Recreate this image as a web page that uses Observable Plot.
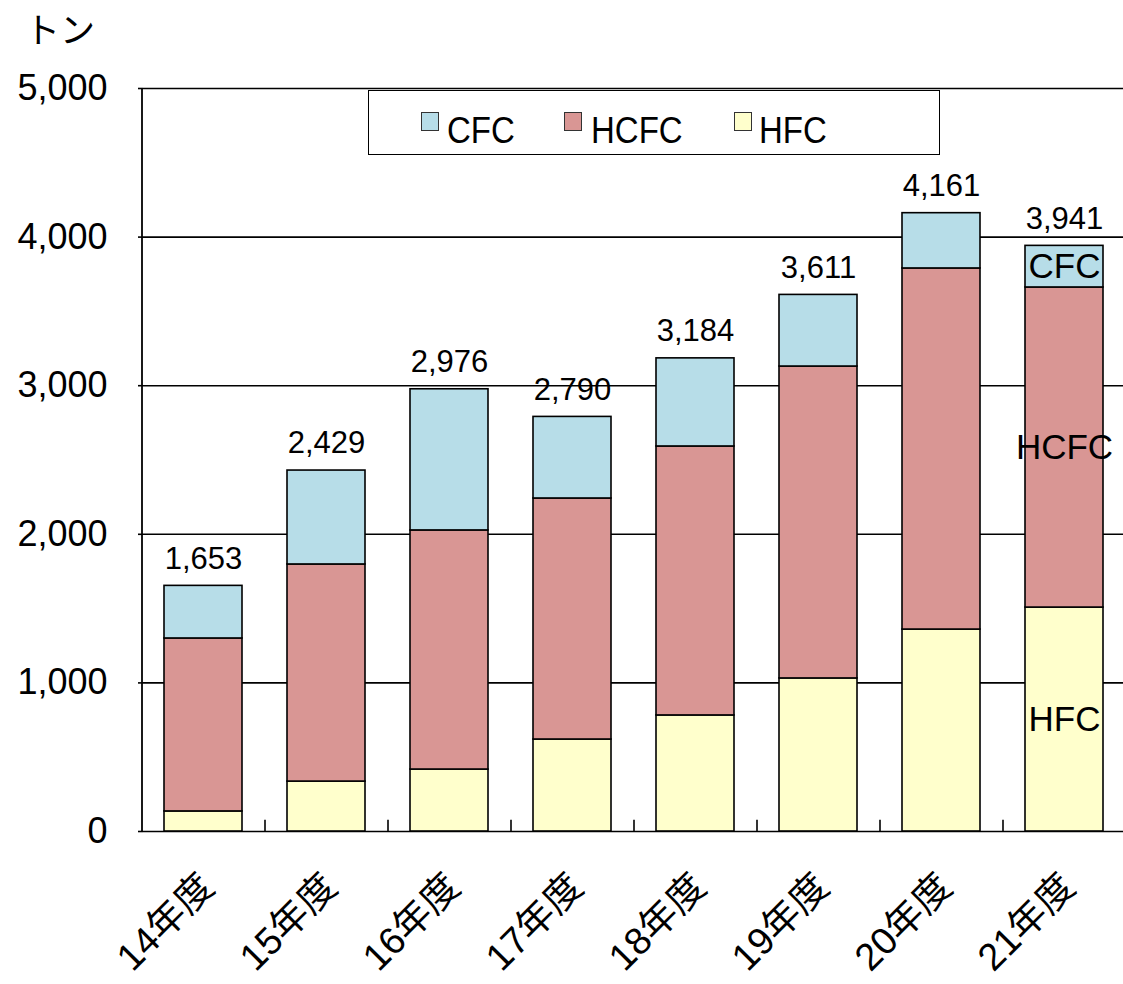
<!DOCTYPE html>
<html>
<head>
<meta charset="utf-8">
<script src="https://cdn.jsdelivr.net/npm/d3@7"></script>
<script src="https://cdn.jsdelivr.net/npm/@observablehq/plot@0.6"></script>
<style>
  html, body { margin: 0; padding: 0; background: #fff; overflow: hidden; }
  #wrap { position: relative; width: 1123px; height: 984px; font-family: "Liberation Sans", Arial, "Noto Sans CJK JP", sans-serif; }
  #unit { position: absolute; left: 25px; top: 2px; font-size: 35px; font-family: "Noto Sans CJK JP", sans-serif; color: #000; }
  #legend { position: absolute; left: 368px; top: 90px; width: 570px; height: 63px; border: 1.5px solid #000; background: #fff; box-sizing: content-box; }
  .sw { position: absolute; top: 21px; width: 16px; height: 17px; border: 1.5px solid #333; }
  .lt { position: absolute; top: 21px; font-size: 33px; line-height: 33px; color: #000; transform: scaleY(1.12); transform-origin: left top; }
</style>
</head>
<body>
<div id="wrap">
  <div id="chart"></div>
  <div id="unit">トン</div>
  <div id="legend"></div>
</div>
<script>
const years = ["14年度", "15年度", "16年度", "17年度", "18年度", "19年度", "20年度", "21年度"];
const hfc  = [135, 336, 417, 619, 781, 1030, 1359, 1507];
const hcfc = [1164, 1461, 1609, 1622, 1810, 2099, 2430, 2154];
const cfc  = [354, 632, 950, 549, 593, 482, 372, 280];
const totals = [1653, 2429, 2976, 2790, 3184, 3611, 4161, 3941];
const seriesNames = ["CFC", "HCFC", "HFC"];
const seriesColors = ["#b7dde8", "#d99694", "#ffffcc"];
const yTicks = [0, 1000, 2000, 3000, 4000, 5000];

// stacked data: HFC bottom, HCFC middle, CFC top
const rows = [];
years.forEach((y, i) => {
  rows.push({year: y, series: "HFC", value: hfc[i]});
  rows.push({year: y, series: "HCFC", value: hcfc[i]});
  rows.push({year: y, series: "CFC", value: cfc[i]});
});
const totalRows = years.map((y, i) => ({year: y, total: totals[i]}));
const lastYear = years[years.length - 1];

const fmt = d3.format(",");

const chart = Plot.plot({
  width: 1123,
  height: 984,
  marginLeft: 143,
  marginTop: 88,
  marginBottom: 153,
  marginRight: 0,
  style: {fontFamily: "Liberation Sans, Arial, Noto Sans CJK JP, sans-serif", color: "#000", background: "#fff"},
  x: {domain: years, range: [142, 1126], paddingInner: 0.365, paddingOuter: 0.1825, label: null},
  y: {domain: [0, 5000], label: null},
  color: {domain: seriesNames, range: seriesColors},
  marks: [
    Plot.ruleY(yTicks, {stroke: "#000", strokeWidth: 1.6}),
    Plot.barY(rows, Plot.stackY({x: "year", y: "value", fill: "series", stroke: "#000", strokeWidth: 1.6, order: null})),
    Plot.ruleX(years.slice(1), {x: d => d, dx: -61.5, y1: 0, y2: 75, stroke: "#000", strokeWidth: 1.6}),
    Plot.ruleX([years[0]], {x: d => d, dx: -61.5, y1: 0, y2: 5000, stroke: "#000", strokeWidth: 1.8}),
    Plot.text(totalRows, {x: "year", y: "total", text: d => fmt(d.total), dy: -27, fontSize: 31, fill: "#000"}),
    Plot.text(rows.filter(d => d.year === lastYear), Plot.stackY({x: "year", y: "value", text: "series", order: null, fontSize: 35, fill: "#000"})),
    Plot.axisY({ticks: yTicks, tickFormat: fmt, tickSize: 5, tickPadding: 31, fontSize: 36, stroke: "#000", strokeWidth: 1.6}),
    Plot.axisX({tickSize: 0, tickRotate: -45, tickPadding: 49, fontSize: 38, fontFamily: "Liberation Sans, Noto Sans CJK JP, sans-serif", dx: 4})
  ]
});
document.getElementById("chart").appendChild(chart);

// legend
const legend = document.getElementById("legend");
const swLeft = [52, 195, 365];
const txtLeft = [78, 222, 390];
seriesNames.forEach((s, i) => {
  const sw = document.createElement("div");
  sw.className = "sw";
  sw.style.left = swLeft[i] + "px";
  sw.style.background = seriesColors[i];
  legend.appendChild(sw);
  const t = document.createElement("div");
  t.className = "lt";
  t.style.left = txtLeft[i] + "px";
  t.textContent = s;
  legend.appendChild(t);
});
</script>
</body>
</html>
